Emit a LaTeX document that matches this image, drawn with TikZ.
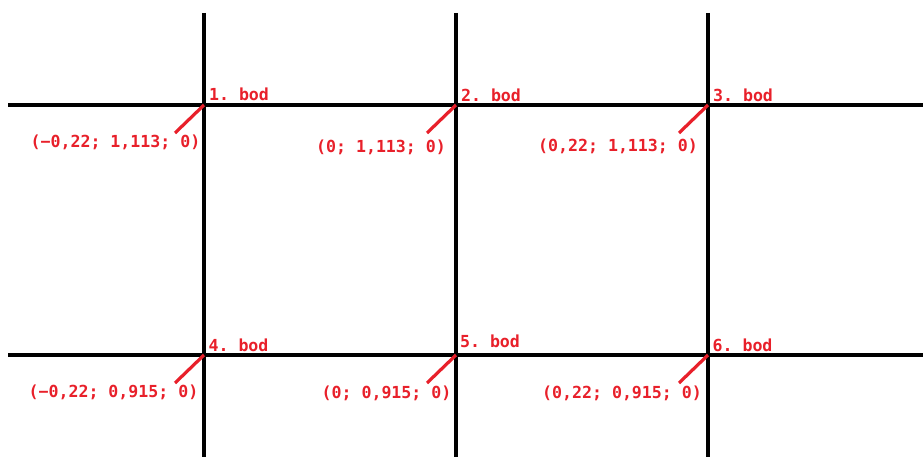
\documentclass[tikz,border=0pt]{standalone}
\usepackage{fontspec}
\newfontfamily\monof{DejaVu Sans Mono}
\definecolor{lblred}{RGB}{232,32,42}
\frenchspacing
\begin{document}
\begin{tikzpicture}[x=1pt,y=-1pt,
  gridline/.style={line width=3.2pt,black},
  tickline/.style={line width=3.2pt,lblred},
  ptlabel/.style={text=lblred,font=\monof\bfseries\fontsize{16.6}{20}\selectfont\frenchspacing,inner sep=0pt,anchor=center},
  coordlabel/.style={text=lblred,font=\monof\bfseries\fontsize{16.6}{20}\selectfont\frenchspacing,inner sep=0pt,anchor=center}]
\useasboundingbox (0,0) rectangle (923,457);
% grid ends
\coordinate (hl1) at (8,105); \coordinate (hr1) at (923,105);
\coordinate (hl2) at (8,355); \coordinate (hr2) at (923,355);
\coordinate (vt1) at (204,13); \coordinate (vb1) at (204,457);
\coordinate (vt2) at (456,13); \coordinate (vb2) at (456,457);
\coordinate (vt3) at (708,13); \coordinate (vb3) at (708,457);
\draw[gridline] (hl1) -- (hr1);
\draw[gridline] (hl2) -- (hr2);
\draw[gridline] (vt1) -- (vb1);
\draw[gridline] (vt2) -- (vb2);
\draw[gridline] (vt3) -- (vb3);
% points
\coordinate (p1) at (204,105); \coordinate (p2) at (456,105); \coordinate (p3) at (708,105);
\coordinate (p4) at (204,355); \coordinate (p5) at (456,355); \coordinate (p6) at (708,355);
\coordinate (t1) at (175,133); \coordinate (t2) at (427,133); \coordinate (t3) at (679,133);
\coordinate (t4) at (175,383); \coordinate (t5) at (427,383); \coordinate (t6) at (679,383);
\foreach \i in {1,...,6} {\draw[tickline] (p\i) -- (t\i);}
% point labels
\node[ptlabel] (b1) at (239,94) {1. bod};
\node[ptlabel] (b2) at (491,95) {2. bod};
\node[ptlabel] (b3) at (743,95) {3. bod};
\node[ptlabel] (b4) at (238.5,345) {4. bod};
\node[ptlabel] (b5) at (490,341) {5. bod};
\node[ptlabel] (b6) at (742.5,345) {6. bod};
% coordinate labels
\node[coordlabel] (c1) at (115.5,142) {(−0,22; 1,113; 0)};
\node[coordlabel] (c2) at (381,147) {(0; 1,113; 0)};
\node[coordlabel] (c3) at (618,146) {(0,22; 1,113; 0)};
\node[coordlabel] (c4) at (113.5,392) {(−0,22; 0,915; 0)};
\node[coordlabel] (c5) at (386.5,393) {(0; 0,915; 0)};
\node[coordlabel] (c6) at (622,393) {(0,22; 0,915; 0)};
\end{tikzpicture}
\end{document}
